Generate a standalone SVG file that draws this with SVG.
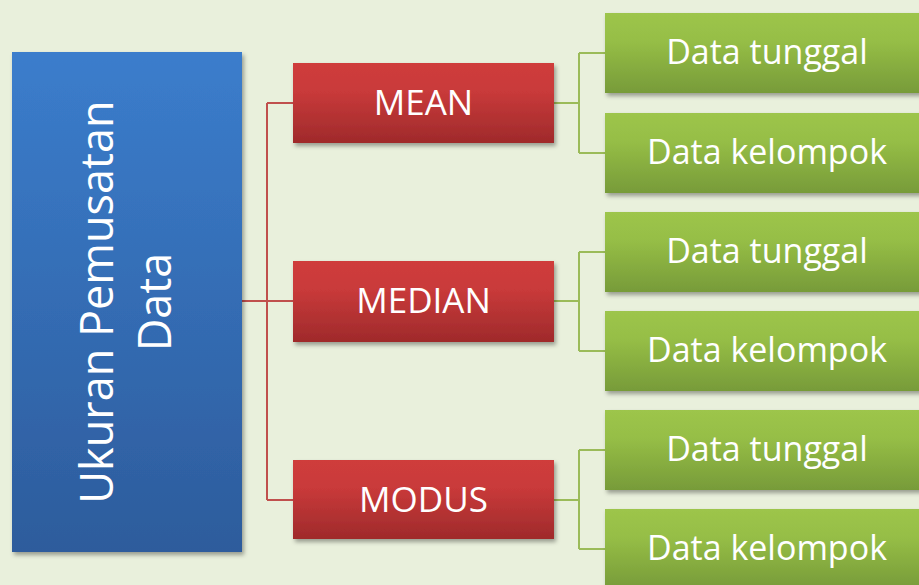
<svg xmlns="http://www.w3.org/2000/svg" width="919" height="585" viewBox="0 0 919 585">
  <defs>
    <linearGradient id="gBlue" x1="0" y1="0" x2="0" y2="1">
      <stop offset="0" stop-color="#3B7DCC"/>
      <stop offset="1" stop-color="#2D5C9C"/>
    </linearGradient>
    <linearGradient id="gRed" x1="0" y1="0" x2="0" y2="1">
      <stop offset="0" stop-color="#CF3C3B"/>
      <stop offset="0.35" stop-color="#C93A3A"/>
      <stop offset="1" stop-color="#9F2A2B"/>
    </linearGradient>
    <linearGradient id="gGreen" x1="0" y1="0" x2="0" y2="1">
      <stop offset="0" stop-color="#9DC54B"/>
      <stop offset="0.35" stop-color="#96BE46"/>
      <stop offset="1" stop-color="#779B39"/>
    </linearGradient>
    <filter id="shadow" x="-10%" y="-10%" width="130%" height="140%">
      <feDropShadow dx="2" dy="3" stdDeviation="2" flood-color="#000" flood-opacity="0.35"/>
    </filter>
  </defs>
  <style>
    .lbl { font-family: "Open Sans", "Noto Sans", "DejaVu Sans", sans-serif; fill: #FFFFFF; text-anchor: middle; }
    .red { fill: url(#gRed); filter: url(#shadow); }
    .green { fill: url(#gGreen); filter: url(#shadow); }
    .lnRed { fill: none; stroke: #C0504D; stroke-width: 2; }
    .lnGreen { fill: none; stroke: #9BBB59; stroke-width: 2; }
  </style>

  <rect width="919" height="585" fill="#E9F0DC"/>

  <!-- connectors -->
  <g id="connectors">
    <path class="lnRed" d="M242 301 H267 M267 103 V500 M267 103 H293 M267 301 H293 M267 500 H293"/>
    <path class="lnGreen" d="M554 103 H579 M579 53 V153 M579 53 H605 M579 153 H605"/>
    <path class="lnGreen" d="M554 301 H579 M579 252 V351 M579 252 H605 M579 351 H605"/>
    <path class="lnGreen" d="M554 500 H579 M579 450 V549 M579 450 H605 M579 549 H605"/>
  </g>

  <!-- root -->
  <g id="root">
    <rect x="12" y="52" width="230" height="500" fill="url(#gBlue)" filter="url(#shadow)"/>
    <g transform="translate(127,302) rotate(-90)">
      <text class="lbl" x="0" y="-14" font-size="45">Ukuran Pemusatan</text>
      <text class="lbl" x="0" y="44" font-size="45">Data</text>
    </g>
  </g>

  <!-- measures -->
  <g id="mean">
    <rect class="red" x="293" y="63" width="261" height="80"/>
    <text class="lbl" x="423.5" y="115" font-size="35">MEAN</text>
  </g>
  <g id="median">
    <rect class="red" x="293" y="261" width="261" height="81"/>
    <text class="lbl" x="423.5" y="313" font-size="35">MEDIAN</text>
  </g>
  <g id="modus">
    <rect class="red" x="293" y="460" width="261" height="79"/>
    <text class="lbl" x="423.5" y="512" font-size="35">MODUS</text>
  </g>

  <!-- data types -->
  <g id="mean-tunggal">
    <rect class="green" x="605" y="13" width="330" height="80"/>
    <text class="lbl" x="767" y="64" font-size="34">Data tunggal</text>
  </g>
  <g id="mean-kelompok">
    <rect class="green" x="605" y="113" width="330" height="80"/>
    <text class="lbl" x="767" y="164" font-size="34">Data kelompok</text>
  </g>
  <g id="median-tunggal">
    <rect class="green" x="605" y="212" width="330" height="80"/>
    <text class="lbl" x="767" y="263" font-size="34">Data tunggal</text>
  </g>
  <g id="median-kelompok">
    <rect class="green" x="605" y="311" width="330" height="80"/>
    <text class="lbl" x="767" y="362" font-size="34">Data kelompok</text>
  </g>
  <g id="modus-tunggal">
    <rect class="green" x="605" y="410" width="330" height="80"/>
    <text class="lbl" x="767" y="461" font-size="34">Data tunggal</text>
  </g>
  <g id="modus-kelompok">
    <rect class="green" x="605" y="509" width="330" height="80"/>
    <text class="lbl" x="767" y="560" font-size="34">Data kelompok</text>
  </g>
</svg>
